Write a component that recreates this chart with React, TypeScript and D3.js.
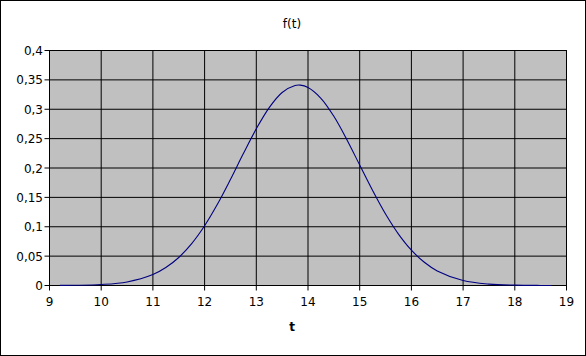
import React from "react";
import * as d3 from "d3";

const tValues = [9.2, 9.5, 10, 10.5, 11, 11.25, 11.5, 11.75, 12, 12.25, 12.5, 12.75, 13, 13.25, 13.5, 13.75, 13.85, 14, 14.25, 14.5, 14.75, 15, 15.25, 15.5, 15.75, 16, 16.25, 16.5, 17, 17.5, 18, 18.5, 18.7];
const fValues = [0.00014, 0.0004, 0.0017, 0.0061, 0.0187, 0.0306, 0.0477, 0.0713, 0.1017, 0.1386, 0.1805, 0.2245, 0.2667, 0.3028, 0.3285, 0.3404, 0.341, 0.337, 0.3187, 0.288, 0.2486, 0.205, 0.1616, 0.1216, 0.0875, 0.0601, 0.0395, 0.0248, 0.0085, 0.0024, 0.0006, 0.0001, 0.00006];
const xTicks = [9, 10, 11, 12, 13, 14, 15, 16, 17, 18, 19];
const yTicks = [0, 0.05, 0.1, 0.15, 0.2, 0.25, 0.3, 0.35, 0.4];
const yTickLabels = ["0", "0,05", "0,1", "0,15", "0,2", "0,25", "0,3", "0,35", "0,4"];
const chartTitle = "f(t)";
const xTitle = "t";

const W = 586;
const H = 356;
const L = 49.5, R = 566.5, T = 50.5, B = 285.5;

export default function App() {
  const x = d3.scaleLinear().domain([9, 19]).range([L, R]);
  const y = d3.scaleLinear().domain([0, 0.4]).range([B, T]);
  const pts = tValues.map((t, i) => [t, fValues[i]] as [number, number]);
  const line = d3
    .line<[number, number]>()
    .x((d) => x(d[0]))
    .y((d) => y(d[1]))
    .curve(d3.curveCatmullRom.alpha(0.5));
  const font = "'DejaVu Sans', sans-serif";
  return (
    <svg
      width={W}
      height={H}
      style={{ position: "absolute", left: 0, top: 0, background: "#fff" }}
      fontFamily={font}
    >
      <rect x={0.5} y={0.5} width={W - 1} height={H - 1} fill="#fff" stroke="#000" />
      <rect x={L} y={T} width={R - L} height={B - T} fill="#c0c0c0" />
      {xTicks.map((t) => (
        <line key={"gx" + t} x1={x(t)} x2={x(t)} y1={T} y2={B + 5} stroke="#000" />
      ))}
      {yTicks.map((v) => (
        <line key={"gy" + v} x1={L - 5} x2={R} y1={y(v)} y2={y(v)} stroke="#000" />
      ))}
      <rect x={L} y={T} width={R - L} height={B - T} fill="none" stroke="#000" />
      <path d={line(pts) || ""} fill="none" stroke="#000080" strokeWidth={1.1} />
      {xTicks.map((t) => (
        <text key={"lx" + t} x={x(t)} y={306} textAnchor="middle" fontSize={12} fill="#000">
          {String(t)}
        </text>
      ))}
      {yTicks.map((v, i) => (
        <text key={"ly" + v} x={43} y={y(v) + 4.5} textAnchor="end" fontSize={12} fill="#000">
          {yTickLabels[i]}
        </text>
      ))}
      <text x={292} y={28} textAnchor="middle" fontSize={12} fill="#000">
        {chartTitle}
      </text>
      <text x={292} y={331} textAnchor="middle" fontSize={12} fontWeight="bold" fill="#000">
        {xTitle}
      </text>
    </svg>
  );
}
